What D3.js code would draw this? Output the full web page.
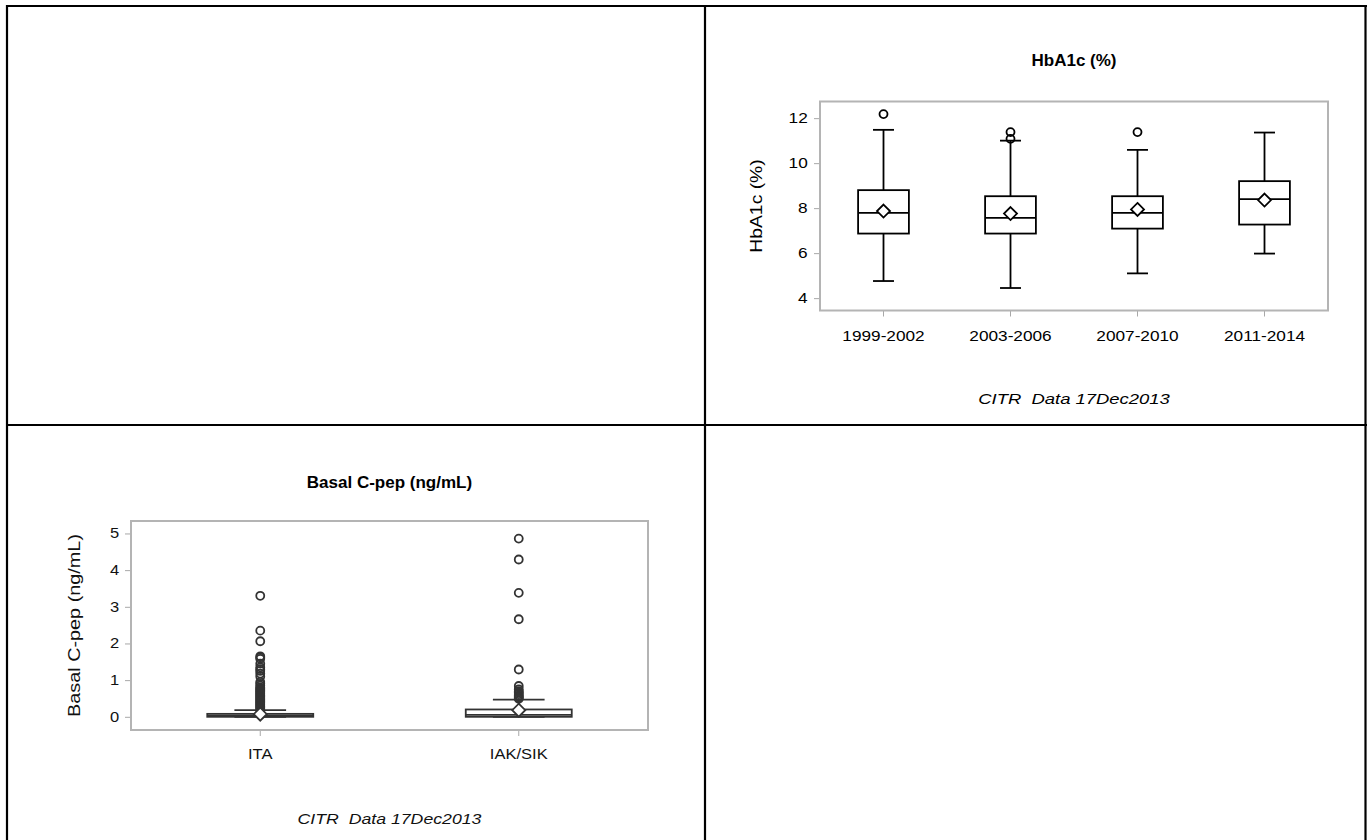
<!DOCTYPE html>
<html><head><meta charset="utf-8">
<script src="https://cdn.jsdelivr.net/npm/d3@7"></script>
<style>body{margin:0;background:#fff}svg{display:block}text{font-family:"Liberation Sans",Arial,sans-serif;white-space:pre}</style>
</head><body>
<script>
// ---- HbA1c data ----
const hbCats = ["1999-2002","2003-2006","2007-2010","2011-2014"];
const hbMin  = [4.76, 4.45, 5.10, 5.98];
const hbQ1   = [6.87, 6.87, 7.09, 7.27];
const hbMed  = [7.79, 7.57, 7.79, 8.40];
const hbQ3   = [8.80, 8.53, 8.53, 9.20];
const hbMax  = [11.48, 11.00, 10.59, 11.36];
const hbMean = [7.87, 7.76, 7.94, 8.36];
const hbOut  = [[12.18], [11.38, 11.08], [11.38], []];
const hbTicks = [4, 6, 8, 10, 12];

// ---- Basal C-pep data ----
const cpCats = ["ITA", "IAK/SIK"];
const cpMin  = [0.00, 0.00];
const cpQ1   = [0.00, 0.00];
const cpMed  = [0.03, 0.05];
const cpQ3   = [0.08, 0.20];
const cpMax  = [0.18, 0.47];
const cpMean = [0.07, 0.18];
const cpOut  = [
  [3.30, 2.35, 2.06, 1.65, 1.62, 1.58, 1.45, 1.35, 1.30, 1.25, 1.18, 1.10, 0.95, 0.90, 0.85, 0.80, 0.77, 0.74, 0.71, 0.68, 0.65, 0.62, 0.59, 0.56, 0.53, 0.50, 0.47, 0.44, 0.41, 0.38, 0.35, 0.32, 0.29, 0.26, 0.23, 0.20, 0.10, 0.06],
  [4.86, 4.29, 3.38, 2.66, 1.29, 0.84, 0.75, 0.70, 0.66, 0.62, 0.58, 0.55, 0.52, 0.49]
];
const cpTicks = [0, 1, 2, 3, 4, 5];
const footnote = "CITR  Data 17Dec2013";

const svg = d3.select("body").append("svg").attr("width", 1367).attr("height", 840);

// table grid
const grid = svg.append("g").attr("stroke", "#000").attr("stroke-width", 2.2);
grid.append("line").attr("x1", 6).attr("x2", 1367).attr("y1", 6).attr("y2", 6);
grid.append("line").attr("x1", 6).attr("x2", 1367).attr("y1", 425).attr("y2", 425);
grid.append("line").attr("x1", 7).attr("x2", 7).attr("y1", 5).attr("y2", 840);
grid.append("line").attr("x1", 705).attr("x2", 705).attr("y1", 5).attr("y2", 840);
grid.append("line").attr("x1", 1365.5).attr("x2", 1365.5).attr("y1", 5).attr("y2", 840);

function drawBox(cfg) {
  const g = svg.append("g");
  const x = d3.scaleBand().domain(cfg.cats).range([cfg.left, cfg.right]).padding(0);
  const y = d3.scaleLinear().domain(cfg.ydom).range([cfg.bottom, cfg.top]);
  const ink = cfg.ink, sx = cfg.stretch;
  // title
  g.append("text").attr("x", (cfg.left + cfg.right) / 2).attr("y", cfg.titleY)
    .attr("text-anchor", "middle").attr("font-weight", "bold").attr("font-size", cfg.titleSize)
    .attr("fill", "#000").text(cfg.title);
  // axes
  const ya = g.append("g").attr("transform", `translate(${cfg.left},0)`)
    .call(d3.axisLeft(y).tickValues(cfg.ticks).tickSize(6).tickPadding(4).tickFormat(d3.format("d")));
  ya.select(".domain").remove();
  ya.selectAll(".tick line").attr("stroke", "#a8a8a8");
  ya.selectAll(".tick text").attr("font-size", cfg.tickSize).attr("fill", cfg.textInk)
    .attr("transform", `scale(${sx},1)`).style("font-family", '"Liberation Sans",Arial,sans-serif');
  const xa = g.append("g").attr("transform", `translate(0,${cfg.bottom})`)
    .call(d3.axisBottom(x).tickSize(6).tickPadding(cfg.xPad));
  xa.select(".domain").remove();
  xa.selectAll(".tick line").attr("stroke", "#a8a8a8");
  xa.selectAll(".tick text").attr("font-size", cfg.tickSize).attr("fill", cfg.textInk)
    .attr("transform", `scale(${sx},1)`).style("font-family", '"Liberation Sans",Arial,sans-serif');
  // frame
  g.append("rect").attr("x", cfg.left).attr("y", cfg.top).attr("width", cfg.right - cfg.left)
    .attr("height", cfg.bottom - cfg.top).attr("fill", "none").attr("stroke", "#b4b4b4").attr("stroke-width", 2);
  // y label
  g.append("text").attr("transform", `translate(${cfg.ylabX},${(cfg.top + cfg.bottom) / 2}) rotate(-90) scale(${cfg.labStretch},1)`)
    .attr("text-anchor", "middle").attr("font-size", cfg.labelSize).attr("fill", cfg.textInk).text(cfg.title);
  // footnote
  g.append("text").attr("transform", `translate(${(cfg.left + cfg.right) / 2},${cfg.footY}) scale(${sx},1)`)
    .attr("text-anchor", "middle").attr("font-style", "italic").attr("font-size", cfg.footSize)
    .attr("fill", cfg.textInk).text(footnote);

  const bw = x.bandwidth() * cfg.boxFrac, cw = x.bandwidth() * cfg.capFrac;
  cfg.cats.forEach((c, i) => {
    const cx = x(c) + x.bandwidth() / 2;
    const b = g.append("g").attr("stroke", ink).attr("stroke-width", cfg.sw).attr("fill", "none");
    b.append("line").attr("x1", cx).attr("x2", cx).attr("y1", y(cfg.q3[i])).attr("y2", y(cfg.max[i]));
    b.append("line").attr("x1", cx).attr("x2", cx).attr("y1", y(cfg.q1[i])).attr("y2", y(cfg.min[i]));
    b.append("line").attr("x1", cx - cw / 2).attr("x2", cx + cw / 2).attr("y1", y(cfg.max[i])).attr("y2", y(cfg.max[i]));
    b.append("line").attr("x1", cx - cw / 2).attr("x2", cx + cw / 2).attr("y1", y(cfg.min[i])).attr("y2", y(cfg.min[i]));
    b.append("rect").attr("x", cx - bw / 2).attr("width", bw).attr("y", y(cfg.q3[i]))
      .attr("height", Math.max(1, y(cfg.q1[i]) - y(cfg.q3[i]))).attr("fill", "#fff");
    b.append("line").attr("x1", cx - bw / 2).attr("x2", cx + bw / 2).attr("y1", y(cfg.med[i])).attr("y2", y(cfg.med[i]));
    cfg.out[i].forEach(v => {
      b.append("circle").attr("cx", cx).attr("cy", y(v)).attr("r", cfg.r).attr("fill", "none");
    });
    const m = y(cfg.mean[i]), d = cfg.dia;
    b.append("path").attr("d", `M${cx},${m - d}L${cx + d},${m}L${cx},${m + d}L${cx - d},${m}Z`).attr("fill", "#fff");
  });
}

drawBox({
  title: "HbA1c (%)", cats: hbCats, min: hbMin, q1: hbQ1, med: hbMed, q3: hbQ3, max: hbMax, mean: hbMean, out: hbOut,
  ticks: hbTicks, ydom: [3.45, 12.74], left: 820, right: 1328, top: 101.5, bottom: 310.5,
  titleY: 66, titleSize: 17, tickSize: 14, labelSize: 16, labStretch: 1.21, ylabX: 762, footY: 404, footSize: 15,
  xPad: 15, stretch: 1.23,
  boxFrac: 0.4, capFrac: 0.165, sw: 1.8, r: 4, dia: 6.5, ink: "#000", textInk: "#000"
});
drawBox({
  title: "Basal C-pep (ng/mL)", cats: cpCats, min: cpMin, q1: cpQ1, med: cpMed, q3: cpQ3, max: cpMax, mean: cpMean, out: cpOut,
  ticks: cpTicks, ydom: [-0.36, 5.34], left: 131, right: 648, top: 521, bottom: 730,
  titleY: 488, titleSize: 17, tickSize: 14, labelSize: 16, labStretch: 1.24, ylabX: 80, footY: 824, footSize: 15,
  xPad: 13, stretch: 1.18,
  boxFrac: 0.41, capFrac: 0.2, sw: 1.8, r: 4, dia: 6.5, ink: "#333", textInk: "#111"
});
</script>
</body></html>
